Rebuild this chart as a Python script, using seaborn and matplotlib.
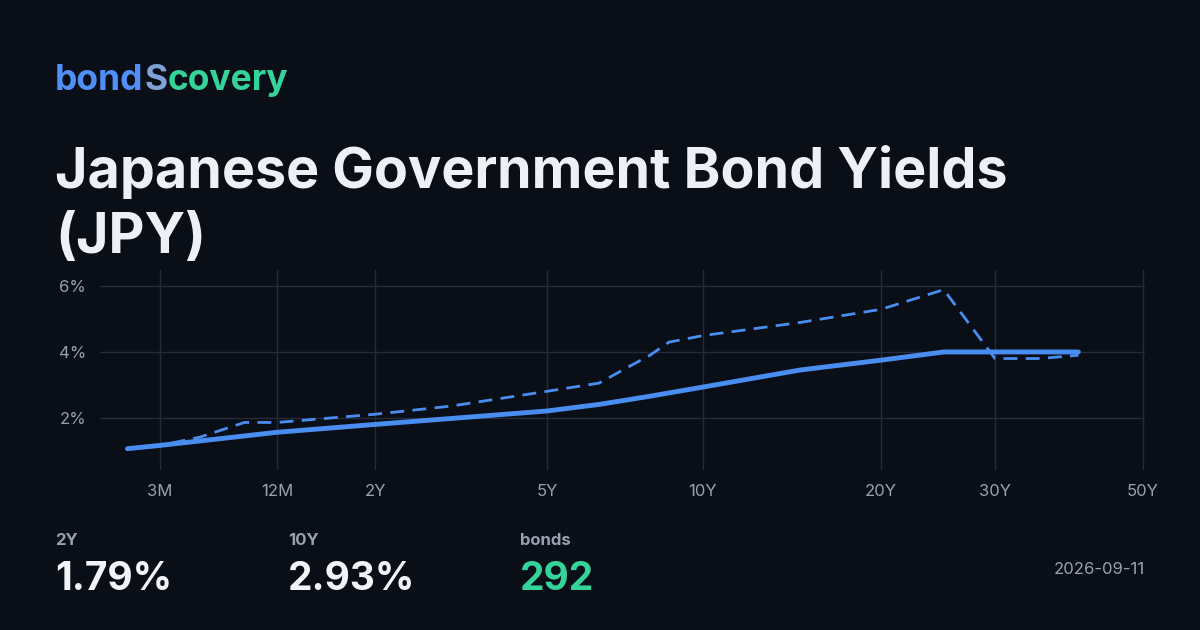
import numpy as np
import pandas as pd
import matplotlib
matplotlib.use("Agg")
import matplotlib.pyplot as plt
import seaborn as sns

tick_vals = [0.25, 1, 2, 5, 10, 20, 30, 50]
tick_labels = ["3M", "12M", "2Y", "5Y", "10Y", "20Y", "30Y", "50Y"]
tick_pos = [160, 277, 375, 547, 703, 881, 995, 1143]  # display spacing of the reference axis

cur_mat = [0.17, 0.25, 1, 2, 5, 6.3, 7.9, 10, 14.6, 20, 25, 30, 40]
cur_yld = [1.05, 1.15, 1.55, 1.79, 2.2, 2.4, 2.65, 2.93, 3.45, 3.75, 4.0, 4.0, 4.0]
prev_mat = [0.17, 0.25, 0.4, 0.68, 1, 2, 3, 5, 6.3, 7.0, 7.9, 8.6, 10, 14.6, 20, 25, 30, 35, 40]
prev_yld = [1.05, 1.15, 1.4, 1.85, 1.85, 2.1, 2.35, 2.8, 3.05, 3.45, 3.9, 4.3, 4.5, 4.9, 5.3, 5.9, 3.8, 3.8, 3.9]

BG = "#0a0e17"
BLUE = "#4a8df0"
GREEN = "#34d399"

lv = np.log(np.r_[0.01, tick_vals, 1000])
lp = np.array([160 - 84.4*np.log(25)] + tick_pos + [1143 + 300*np.log(20)])
def fwd(x):
    return np.interp(np.log(np.clip(x, 1e-4, None)), lv, lp)
def inv(p):
    return np.exp(np.interp(p, lp, lv))

sns.set_theme(style="dark")
plt.rcParams["font.family"] = ["Inter", "DejaVu Sans"]
fig = plt.figure(figsize=(12, 6.3), dpi=100, facecolor=BG)
ax = fig.add_axes([100/1200, 1-470/630, (1145-100)/1200, 200/630])
ax.set_facecolor(BG)
ax.set_xscale("function", functions=(fwd, inv))

df_c = pd.DataFrame({"m": cur_mat, "y": cur_yld})
df_p = pd.DataFrame({"m": prev_mat, "y": prev_yld})
sns.lineplot(data=df_p, x="m", y="y", ax=ax, color=BLUE, lw=2, linestyle=(0, (5, 3)))
sns.lineplot(data=df_c, x="m", y="y", ax=ax, color=BLUE, lw=3.5)

ax.set_xlim(inv(100), inv(1145))
ax.set_ylim(0.4, 6.5)
ax.set_xticks(tick_vals)
ax.set_xticklabels(tick_labels)
ax.set_yticks([2, 4, 6])
ax.set_yticklabels(["2%", "4%", "6%"])
ax.set_xlabel(""); ax.set_ylabel("")
ax.grid(True, color="#252a3c", lw=1)
for s in ax.spines.values():
    s.set_visible(False)
ax.tick_params(colors="#9aa0b0", labelsize=12, length=0, pad=10)

# logo
r = fig.canvas.get_renderer()
x = 55
for txt, col in [("bond", "#4f8ff7"), ("S", "#7fa2d6"), ("covery", GREEN)]:
    t = fig.text(x/1200, 1-90/630, txt, color=col, fontsize=25.5, fontweight="bold", va="baseline")
    bb = t.get_window_extent(r)
    x += bb.width + 0.5

fig.text(55/1200, 1-188/630, "Japanese Government Bond Yields", color="#eef0f6",
         fontsize=40, fontweight="bold", va="baseline")
fig.text(55/1200, 1-253/630, "(JPY)", color="#eef0f6", fontsize=40, fontweight="bold", va="baseline")

for xp, lab, val, col in [(55, "2Y", "1.79%", "#f2f4f8"), (288, "10Y", "2.93%", "#f2f4f8"),
                          (520, "bonds", "292", GREEN)]:
    fig.text(xp/1200, 1-545/630, lab, color="#9aa0b0", fontsize=12, fontweight="bold", va="baseline")
    fig.text(xp/1200, 1-590/630, val, color=col, fontsize=28, fontweight="bold", va="baseline")
fig.text(1145/1200, 1-574/630, "2026-09-11", color="#9aa0b0", fontsize=12, ha="right", va="baseline")

fig.savefig("out.png", dpi=100, facecolor=BG)
